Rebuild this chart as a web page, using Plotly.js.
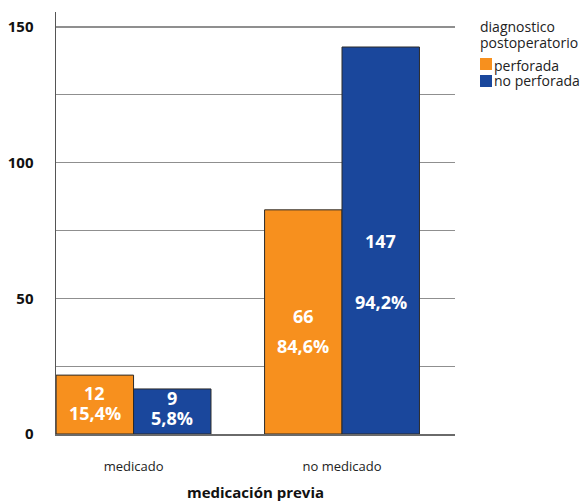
<!DOCTYPE html>
<html>
<head>
<meta charset="utf-8">
<script src="https://cdn.plot.ly/plotly-3.0.1.min.js"></script>
<style>html,body{margin:0;padding:0;background:#fff;}#chart{width:584px;height:504px;}</style>
</head>
<body>
<div id="chart"></div>
<script>
// ---- data ----
const categories = ['medicado', 'no medicado'];
const seriesNames = ['perforada', 'no perforada'];
const perforadaHeights = [21.7, 82.6];
const noPerforadaHeights = [16.6, 142.6];
const perforadaCounts = ['12', '66'];
const noPerforadaCounts = ['9', '147'];
const perforadaPct = ['15,4%', '84,6%'];
const noPerforadaPct = ['5,8%', '94,2%'];
const yTickVals = [0, 50, 100, 150];
const yTickText = ['0', '50', '100', '150'];
const legendTitleLines = ['diagnostico', 'postoperatorio'];

// ---- style / layout ----
const COLORS = ['#F7901E', '#1A479C'];
const BARGAP = 0.257;
const FONT = 'Open Sans, Liberation Sans, sans-serif';
// label vertical positions (y data units) per series, per category
const COUNT_Y = [[15.1, 43.6], [13.3, 71.3]];
const PCT_Y = [[7.7, 32.5], [5.9, 48.5]];

const heights = [perforadaHeights, noPerforadaHeights];
const counts = [perforadaCounts, noPerforadaCounts];
const pcts = [perforadaPct, noPerforadaPct];

const traces = seriesNames.map((name, j) => ({
  type: 'bar',
  name: name,
  x: categories,
  y: heights[j],
  marker: {color: COLORS[j], line: {color: '#2b2b2b', width: 1}},
  showlegend: false,
  hoverinfo: 'none'
}));

const half = (1 - BARGAP) / 4;
const annotations = [];
seriesNames.forEach((name, j) => {
  categories.forEach((c, i) => {
    const x = i + (j === 0 ? -half : half);
    annotations.push({x: x, y: COUNT_Y[j][i], xref: 'x', yref: 'y', text: '<b>' + counts[j][i] + '</b>',
      showarrow: false, font: {family: FONT, size: 18, color: '#ffffff'}, xanchor: 'center', yanchor: 'middle', borderpad: 0});
    annotations.push({x: x, y: PCT_Y[j][i], xref: 'x', yref: 'y', text: '<b>' + pcts[j][i] + '</b>',
      showarrow: false, font: {family: FONT, size: 18, color: '#ffffff'}, xanchor: 'center', yanchor: 'middle', borderpad: 0});
  });
});

// manual legend
const legFont = {family: FONT, size: 14, color: '#222'};
const legCommon = {xref: 'paper', yref: 'paper', showarrow: false, xanchor: 'left', yanchor: 'middle', font: legFont, borderpad: 0};
annotations.push(Object.assign({x: 1.0602, y: 0.9668, text: legendTitleLines[0]}, legCommon));
annotations.push(Object.assign({x: 1.0602, y: 0.9289, text: legendTitleLines[1]}, legCommon));
annotations.push(Object.assign({x: 1.0952, y: 0.8744, text: seriesNames[0]}, legCommon));
annotations.push(Object.assign({x: 1.0952, y: 0.8365, text: seriesNames[1]}, legCommon));

const shapes = [
  {type: 'rect', xref: 'paper', yref: 'paper', x0: 1.0627, x1: 1.0927, y0: 0.8626, y1: 0.8910, fillcolor: COLORS[0], line: {width: 0}},
  {type: 'rect', xref: 'paper', yref: 'paper', x0: 1.0627, x1: 1.0927, y0: 0.8223, y1: 0.8507, fillcolor: COLORS[1], line: {width: 0}}
];

const layout = {
  width: 584, height: 504,
  margin: {l: 56, r: 129, t: 12, b: 70},
  paper_bgcolor: '#fff', plot_bgcolor: '#fff',
  barmode: 'group', bargap: BARGAP, bargroupgap: 0,
  font: {family: FONT, color: '#111'},
  xaxis: {
    type: 'category', range: [-0.372, 1.542],
    showline: true, linecolor: '#6a6a6a', linewidth: 1.5,
    showgrid: false, ticks: '', ticklabelstandoff: 20,
    tickfont: {family: FONT, size: 13, color: '#222'},
    title: {text: '<b>medicación previa</b>', font: {family: FONT, size: 15, color: '#111'}, standoff: 13},
    automargin: false, fixedrange: true
  },
  yaxis: {
    range: [0, 155.5], tickmode: 'array', tickvals: yTickVals, ticktext: yTickText,
    showline: true, linecolor: '#555', linewidth: 1.5,
    showgrid: true, gridcolor: '#8f8f8f', gridwidth: 1.2,
    minor: {tickmode: 'linear', tick0: 0, dtick: 25, showgrid: true, gridcolor: '#8f8f8f', gridwidth: 1.2, ticks: ''},
    zeroline: false, ticks: '', ticklabelstandoff: 18,
    tickfont: {family: FONT, size: 15, color: '#111', weight: 'bold'},
    automargin: false, fixedrange: true
  },
  annotations: annotations,
  shapes: shapes,
  showlegend: false
};

Plotly.newPlot('chart', traces, layout, {displayModeBar: false, staticPlot: true});
</script>
</body>
</html>
